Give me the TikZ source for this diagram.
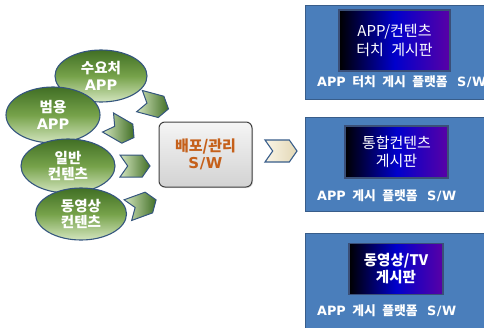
\documentclass[tikz,border=0pt]{standalone}
\usepackage{fontspec}
\setmainfont{Noto Sans CJK KR}[WordSpace=2.2]
\newfontfamily\lat{DejaVu Sans}
\usetikzlibrary{shapes.geometric,shapes.symbols,shadows}
\definecolor{panelblue}{HTML}{4A7EBB}
\definecolor{paneledge}{HTML}{385D8A}
\definecolor{screenedge}{HTML}{3A4F78}
\definecolor{leafdark}{HTML}{416F25}
\definecolor{leafmid}{HTML}{76A24A}
\definecolor{leaflight}{HTML}{D3E5BE}
\definecolor{leafedge}{HTML}{34557E}
\definecolor{hubtext}{HTML}{C5601A}
\definecolor{beigelight}{HTML}{FAF5E6}
\definecolor{beigedark}{HTML}{E2D7B5}
\newcommand\sw{{\lat S\kern0.6pt/\kern0.6pt W}}
\tikzset{
  panel/.style={draw=paneledge, line width=1.2pt, fill=panelblue, anchor=north west, inner sep=0pt},
  screen/.style={draw=screenedge, line width=1.2pt, left color=black, right color=violet!70!blue, middle color=blue!80!black,
    text=white, align=center, inner sep=0pt, font=\fontsize{15}{18.5}\selectfont},
  platform/.style={anchor=west, text=white, inner sep=0pt, font=\bfseries\fontsize{12.8}{14}\selectfont},
  leaf/.style={ellipse, draw=leafedge, line width=1.1pt, top color=leafdark, bottom color=leaflight, middle color=leafmid,
    text=white, align=center, inner sep=0pt, font=\bfseries\fontsize{14.5}{16.5}\selectfont},
  chev/.style={signal, signal to=east, signal from=west, signal pointer angle=110, draw=leafedge, line width=1pt,
    left color=leaflight, right color=leafdark, minimum width=30pt, minimum height=22pt, inner sep=0pt},
  hub/.style={draw=black!75, line width=1pt, rounded corners=6pt, top color=gray!8, bottom color=gray!35,
    text=hubtext, align=center, font=\bfseries\fontsize{15}{17.5}\selectfont,
    drop shadow={opacity=0.25, shadow xshift=1pt, shadow yshift=-1pt}},
}
\begin{document}
\begin{tikzpicture}[x=1pt, y=-1pt]
\useasboundingbox (0,0) rectangle (484,327);
\fill[white] (0,0) rectangle (484,327);

% platform panels on the right
\node[panel, minimum width=190pt, minimum height=94pt] (p1) at (305,5) {};
\node[panel, minimum width=190pt, minimum height=94pt] (p2) at (305,117) {};
\node[panel, minimum width=190pt, minimum height=102pt] (p3) at (305,233) {};

% board screens inside the panels
\node[screen, minimum width=111pt, minimum height=61pt] (s1) at (394.5,40.5) {APP/컨텐츠\\터치 게시판};
\node[screen, minimum width=103pt, minimum height=52pt] (s2) at (396.5,152) {통합컨텐츠\\게시판};
\node[screen, minimum width=94pt, minimum height=51pt, font=\bfseries\fontsize{14.5}{17}\selectfont] (s3) at (396,269) {동영상/TV\\게시판};

% platform captions
\node[platform] (t1) at (317,82) {{\lat APP} 터치 게시 플랫폼 \kern3pt\sw};
\node[platform] (t2) at (317,196) {{\lat APP} 게시 플랫폼 \kern3pt\sw};
\node[platform] (t3) at (317,311) {{\lat APP} 게시 플랫폼 \kern3pt\sw};

% content sources
\node[leaf, minimum width=92pt, minimum height=52pt] (e1) at (101,76) {수요처\\{\lat APP}};
\node[leaf, minimum width=94pt, minimum height=56pt] (e2) at (53,115) {범용\\{\lat APP}};
\node[leaf, minimum width=94pt, minimum height=54pt] (e3) at (68,166) {일반\\컨텐츠};
\node[leaf, minimum width=91pt, minimum height=52pt] (e4) at (81,214) {동영상\\컨텐츠};

% chevrons feeding the hub
\node[chev, rotate=-15] (c1) at (154,105) {};
\node[chev, rotate=-30] (c2) at (121,130) {};
\node[chev] (c3) at (135,166) {};
\node[chev, rotate=20] (c4) at (142,205) {};

% distribution / management hub
\node[hub, minimum width=93pt, minimum height=65pt] (hub) at (205.5,154.5) {배포/관리\\\sw};

% chevron towards the panels
\node[signal, signal to=east, signal from=west, signal pointer angle=110, draw=paneledge, line width=1.1pt,
  left color=beigelight, right color=beigedark, minimum width=32pt, minimum height=22pt, inner sep=0pt] (c5) at (281,151) {};
\end{tikzpicture}
\end{document}
